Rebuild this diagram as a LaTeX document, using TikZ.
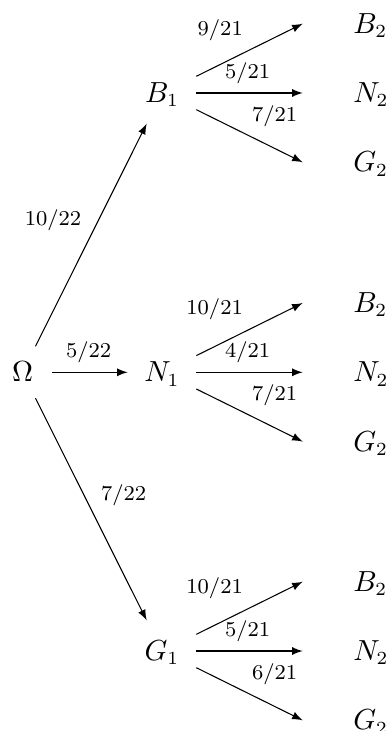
\documentclass[tikz,border=0pt]{standalone}
\begin{document}
\begin{tikzpicture}[x=0.37736pt,y=-0.37736pt,
  nodefont/.style={font=\fontsize{10.5}{12.5}\selectfont, text height=7.17pt, text depth=0pt},
  rootnode/.style={nodefont, circle, inner sep=0pt, minimum size=21.5pt},
  lone/.style={nodefont, circle, inner sep=0pt, minimum size=25.5pt},
  ltwo/.style={nodefont, anchor=west, inner xsep=18.9pt, inner ysep=0pt},
  arr/.style={-latex, line width=0.4pt},
  prob/.style={anchor=base east, inner sep=0pt, font=\footnotesize}]
\useasboundingbox (0,0) rectangle (390,731);
\node[rootnode] (O) at (22.5,372.3) {$\Omega$};
\foreach \n/\y/\a/\b/\c in {B/93/9/5/7, N/372.3/10/4/7, G/651/10/5/6} {
  \node[lone] (\n1) at (162,\y) {$\n_1$};
  \node[ltwo] (\n2B) at (302.7,\y-69.3) {$B_2$};
  \node[ltwo] (\n2N) at (302.7,\y) {$N_2$};
  \node[ltwo] (\n2G) at (302.7,\y+69.3) {$G_2$};
  \draw[arr] ([yshift=6.3pt]\n1.east) -- (\n2B.west);
  \draw[arr] (\n1.east) -- (\n2N.west);
  \draw[arr] ([yshift=-6.3pt]\n1.east) -- (\n2G.west);
  \node[prob] (\n pa) at (243.3,\y-57.9) {$\a/21$};
  \node[prob] (\n pb) at (270.7,\y-14.6) {$\b/21$};
  \node[prob] (\n pc) at (297.7,\y+28.4) {$\c/21$};
}
\draw[arr] (O) -- (B1);
\draw[arr] (O) -- (N1);
\draw[arr] (O) -- (G1);
\node[prob] (pB) at (81.7,225.8) {$10/22$};
\node[prob] (pN) at (111.7,357.3) {$5/22$};
\node[prob] (pG) at (146.7,500) {$7/22$};
\end{tikzpicture}
\end{document}
